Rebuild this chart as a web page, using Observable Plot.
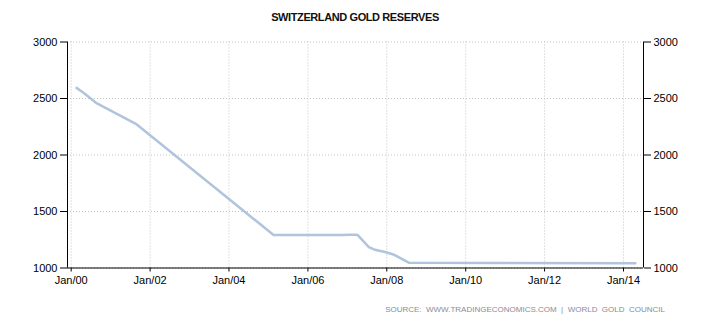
<!DOCTYPE html>
<html><head><meta charset="utf-8">
<script src="https://cdn.jsdelivr.net/npm/d3@7"></script>
<script src="https://cdn.jsdelivr.net/npm/@observablehq/plot@0.6"></script>
<style>
html,body{margin:0;padding:0;background:#fff;}
body{width:710px;height:325px;position:relative;overflow:hidden;font-family:"Liberation Sans",Arial,sans-serif;}
#title{position:absolute;left:0;top:11px;width:710px;text-align:center;font-size:11px;font-weight:bold;color:#111;letter-spacing:-0.4px;}
#chart{position:absolute;left:0;top:30px;}
#source{position:absolute;right:45px;top:305px;font-size:8px;color:#8a8a9a;letter-spacing:0px;white-space:pre;}
</style></head>
<body>
<div id="title">SWITZERLAND GOLD RESERVES</div>
<div id="chart"></div>
<div id="source">SOURCE:  WWW.TRADINGECONOMICS.COM  |  WORLD  GOLD  COUNCIL</div>
<script>
const dates = ["2000-02-20","2000-04-30","2000-08-18","2001-08-22","2005-02-17","2006-11-15","2007-01-15","2007-03-15","2007-04-05","2007-07-19","2007-09-05","2007-12-16","2008-03-10","2008-07-27","2014-04-20"];
const reserves = [2594,2547,2462,2276,1292,1292,1295,1295,1293,1184,1164,1142,1117,1046,1042];
const yTicks = [1000,1500,2000,2500,3000];
const xTickYears = [2000,2002,2004,2006,2008,2010,2012,2014];
const xDomain = ["1999-11-28","2014-07-05"];

const data = dates.map((d,i)=>({date:new Date(d), value:reserves[i]}));
const xTicks = xTickYears.map(y=>new Date(Date.UTC(y,0,1)));
const xDom = xDomain.map(d=>new Date(d));
const fmt = d3.utcFormat("%b/%y");

const chart = Plot.plot({
  width:710, height:265,
  marginLeft:67, marginRight:67, marginTop:11.5, marginBottom:27.5,
  style:{fontFamily:"Liberation Sans, Arial, sans-serif", fontSize:"11px", color:"#000", background:"#fff"},
  x:{type:"utc", domain:xDom, ticks:xTicks, tickFormat:fmt, tickSize:4, tickPadding:4, label:null},
  y:{domain:[1000,3000], ticks:yTicks, tickFormat:d=>String(d), tickSize:7, tickPadding:3, label:null, axis:"both"},
  marks:[
    Plot.ruleY(yTicks, {stroke:"#c4c4c4", strokeDasharray:"1,2"}),
    Plot.ruleX(xTicks, {stroke:"#c4c4c4", strokeDasharray:"1,2"}),
    Plot.line(data, {x:"date", y:"value", stroke:"#b0c4de", strokeWidth:2.5}),
    Plot.ruleY([1000], {stroke:"#000"}),
    Plot.ruleX([xDom[0]], {stroke:"#000"}),
    Plot.ruleX([xDom[1]], {stroke:"#000"})
  ]
});
document.getElementById("chart").appendChild(chart);
</script>
</body></html>
